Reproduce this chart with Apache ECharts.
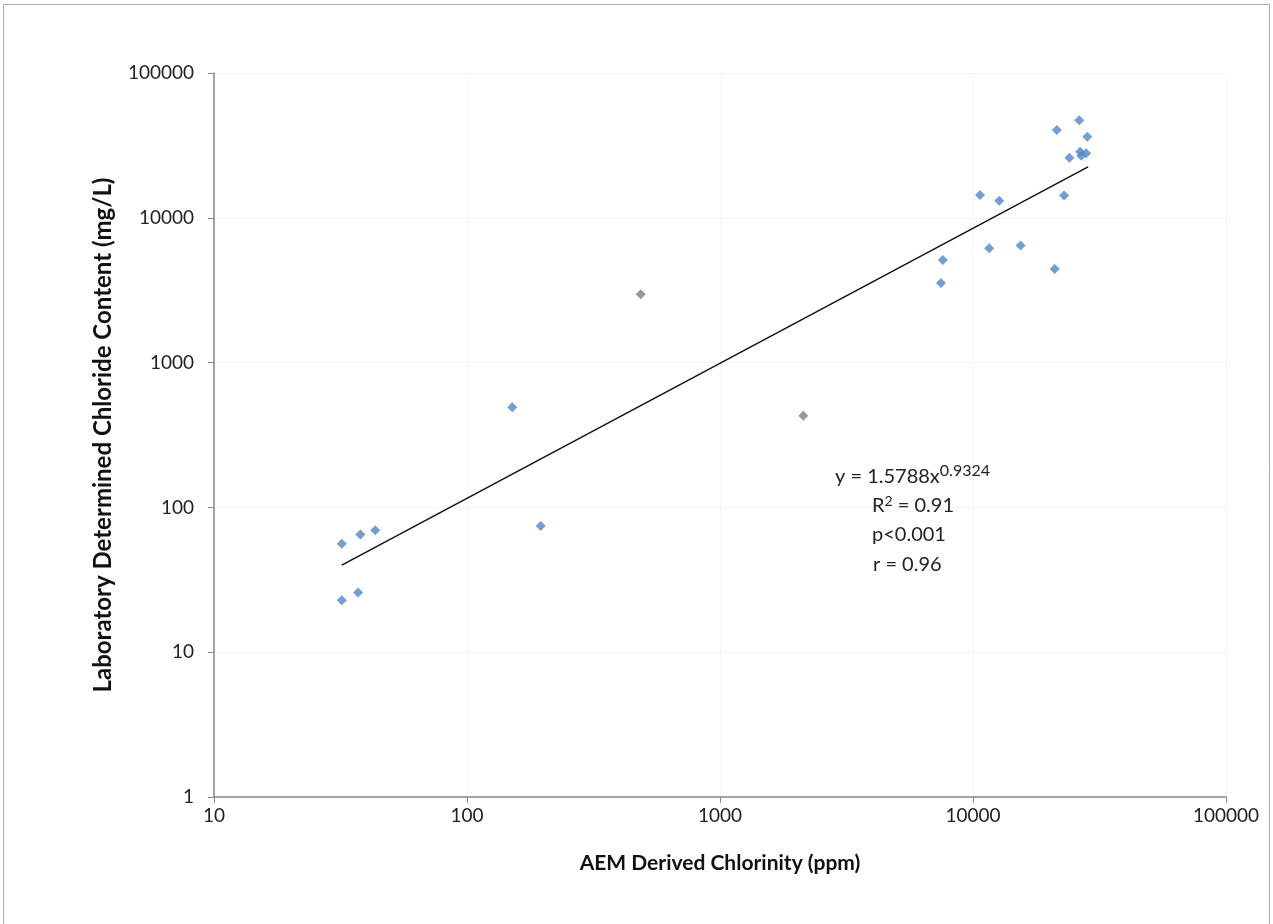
<!DOCTYPE html>
<html>
<head>
<meta charset="utf-8">
<script src="https://cdn.jsdelivr.net/npm/echarts@6/dist/echarts.min.js"></script>
<style>
  html, body { margin: 0; padding: 0; background: #fff; }
  #chart { width: 1273px; height: 924px; }
</style>
</head>
<body>
<div id="chart"></div>
<script>
// AEM-derived chlorinity (ppm) vs laboratory chloride (mg/L)
const aemBlue = [32, 32, 37.9, 43.4, 37.1, 151, 195.5, 7600, 7470, 10660, 12700, 11590, 15420, 21040, 22900, 21440, 26300, 28300, 24040, 26500, 26800, 28000];
const labBlue = [56, 22.8, 65, 69.5, 25.8, 491, 74.5, 5120, 3550, 14360, 13130, 6150, 6450, 4430, 14230, 40360, 47100, 36300, 26000, 28600, 26800, 27900];
const aemGrey = [486, 2134];
const labGrey = [2966, 430];

// Power-law fit y = a * x^b, drawn across the sampled range
const fitA = 1.5788;
const fitB = 0.9324;
const fitRange = [32, 28500];

const xTicks = ['10', '100', '1000', '10000', '100000'];
const yTicks = ['1', '10', '100', '1000', '10000', '100000'];

const pairs = (xs, ys) => xs.map((x, i) => [x, ys[i]]);
const fitLine = fitRange.map(x => [x, fitA * Math.pow(x, fitB)]);

const font = 'Lato, Carlito, "Open Sans", sans-serif';

const chart = echarts.init(document.getElementById('chart'), null, { renderer: 'canvas' });
chart.setOption({
  animation: false,
  backgroundColor: '#ffffff',
  grid: { left: 214, right: 47, top: 73, bottom: 127, containLabel: false },
  xAxis: {
    type: 'log',
    logBase: 10,
    min: 10,
    max: 100000,
    name: 'AEM Derived Chlorinity (ppm)',
    nameLocation: 'middle',
    nameGap: 56,
    nameTextStyle: { fontFamily: font, fontSize: 21, fontWeight: 'bold', color: '#111' },
    axisLine: { lineStyle: { color: '#888', width: 1.5 } },
    axisTick: { show: true, inside: false, length: 6, lineStyle: { color: '#888' } },
    axisLabel: {
      fontFamily: font, fontSize: 19, color: '#222', margin: 9,
      formatter: v => xTicks.find(t => Number(t) === Math.round(v)) || ''
    },
    splitLine: { show: true, lineStyle: { color: '#f5f5f5', width: 1 } },
    minorTick: { show: false },
    minorSplitLine: { show: false }
  },
  yAxis: {
    type: 'log',
    logBase: 10,
    min: 1,
    max: 100000,
    name: 'Laboratory Determined Chloride Content (mg/L)',
    nameLocation: 'middle',
    nameGap: 99,
    nameTextStyle: { fontFamily: font, fontSize: 24, fontWeight: 'bold', color: '#111' },
    axisLine: { show: true, lineStyle: { color: '#888', width: 1.5 } },
    axisTick: { show: true, inside: false, length: 6, lineStyle: { color: '#888' } },
    axisLabel: {
      fontFamily: font, fontSize: 19, color: '#222', margin: 20,
      formatter: v => yTicks.find(t => Number(t) === Math.round(v)) || ''
    },
    splitLine: { show: true, lineStyle: { color: '#f5f5f5', width: 1 } }
  },
  series: [
    {
      name: 'fit',
      type: 'line',
      data: fitLine,
      symbol: 'none',
      lineStyle: { color: '#111', width: 1.5 },
      z: 2
    },
    {
      name: 'samples',
      type: 'scatter',
      data: pairs(aemBlue, labBlue),
      symbol: 'diamond',
      symbolSize: 10,
      itemStyle: { color: '#4f86c4' },
      z: 3
    },
    {
      name: 'samples-grey',
      type: 'scatter',
      data: pairs(aemGrey, labGrey),
      symbol: 'diamond',
      symbolSize: 10,
      itemStyle: { color: '#7f7f7f' },
      z: 3
    }
  ],
  graphic: [
    {
      type: 'rect',
      shape: { x: 3.5, y: 4.5, width: 1266, height: 940 },
      style: { fill: null, stroke: '#aaa', lineWidth: 1 },
      silent: true
    },
    {
      type: 'text',
      z: 100,
      x: 835,
      y: 463,
      style: {
        text: '{b|y = 1.5788x}{s|0.9324}',
        rich: {
          b: { fontFamily: font, fontSize: 20, fill: '#222' },
          s: { fontFamily: font, fontSize: 16, fill: '#222', padding: [0, 0, 11, 0] }
        }
      }
    },
    {
      type: 'text',
      z: 100,
      x: 872,
      y: 494,
      style: {
        text: '{b|R}{s|2}{b| = 0.91}',
        rich: {
          b: { fontFamily: font, fontSize: 20, fill: '#222' },
          s: { fontFamily: font, fontSize: 14, fill: '#222', padding: [0, 0, 9, 0] }
        }
      }
    },
    {
      type: 'text',
      z: 100,
      x: 872,
      y: 525,
      style: { text: 'p<0.001', fontFamily: font, fontSize: 20, fill: '#222' }
    },
    {
      type: 'text',
      z: 100,
      x: 873,
      y: 555,
      style: { text: 'r = 0.96', fontFamily: font, fontSize: 20, fill: '#222' }
    }
  ]
});
</script>
</body>
</html>
